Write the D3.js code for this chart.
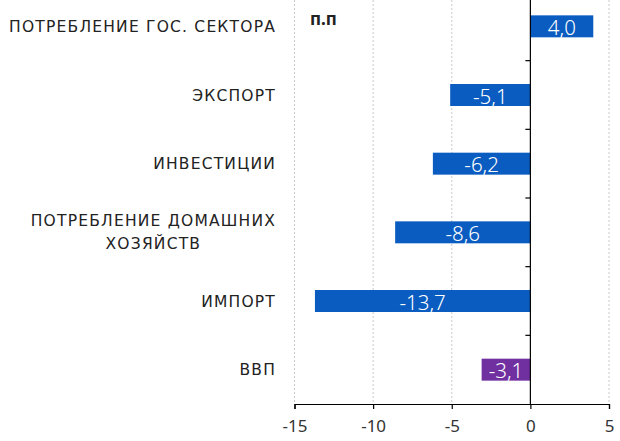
<!DOCTYPE html>
<html>
<head>
<meta charset="utf-8">
<script src="https://cdn.jsdelivr.net/npm/d3@7"></script>
<style>
  body { margin: 0; background: #fff; }
</style>
</head>
<body>
<svg class="chart"></svg>
<script>
let width = 620,
  height = 441;

// data
let categories = [
  ["ПОТРЕБЛЕНИЕ ГОС. СЕКТОРА"],
  ["ЭКСПОРТ"],
  ["ИНВЕСТИЦИИ"],
  ["ПОТРЕБЛЕНИЕ ДОМАШНИХ", "ХОЗЯЙСТВ"],
  ["ИМПОРТ"],
  ["ВВП"],
];
let values = [4.0, -5.1, -6.2, -8.6, -13.7, -3.1];
let valueLabels = ["4,0", "-5,1", "-6,2", "-8,6", "-13,7", "-3,1"];
let xTicks = [-15, -10, -5, 0, 5];
let unitLabel = "п.п";

let svg = d3.select(".chart").attr("width", width).attr("height", height);

let x = d3.scaleLinear().domain([-15, 5]).range([294.5, 609]);
let y = d3
  .scaleBand()
  .domain(d3.range(categories.length))
  .range([-8, 404])
  .paddingInner(0.68)
  .paddingOuter(0.34);
let step = y.step();

// dotted grid
svg
  .append("g")
  .selectAll("line")
  .data(xTicks.filter((d) => d != 0))
  .enter()
  .append("line")
  .attr("x1", (d) => x(d))
  .attr("x2", (d) => x(d))
  .attr("y1", 0)
  .attr("y2", 404)
  .attr("stroke", "#c8c8c8")
  .attr("stroke-width", 1)
  .attr("stroke-dasharray", "2,2");

// bars
svg
  .append("g")
  .selectAll("rect")
  .data(values)
  .enter()
  .append("rect")
  .attr("x", (d) => x(Math.min(0, d)))
  .attr("y", (d, i) => y(i))
  .attr("width", (d) => Math.abs(x(d) - x(0)))
  .attr("height", y.bandwidth())
  .attr("fill", (d, i) => (i == categories.length - 1 ? "#7030a0" : "#0a5cc0"));

// value labels
svg
  .append("g")
  .selectAll("text")
  .data(values)
  .enter()
  .append("text")
  .attr("x", (d) => (x(d) + x(0)) / 2)
  .attr("y", (d, i) => y(i) + y.bandwidth() / 2)
  .attr("dy", "0.42em")
  .attr("text-anchor", "middle")
  .attr("fill", "#fff")
  .style("font-family", "Noto Sans, sans-serif")
  .style("font-size", "20.5px")
  .style("font-weight", 300)
  .text((d, i) => valueLabels[i]);

// bottom axis
let xAxis = d3
  .axisBottom(x)
  .tickValues(xTicks)
  .tickSize(5)
  .tickFormat((d) => d);
let gx = svg.append("g").attr("transform", "translate(0,404)").call(xAxis);
gx.select(".domain").attr("stroke", "#000").attr("stroke-width", 1.2);
gx.selectAll(".tick line").attr("stroke", "#000").attr("stroke-width", 1.2);
gx.selectAll(".tick text")
  .style("font-family", "Noto Sans, sans-serif")
  .style("font-size", "17px")
  .attr("fill", "#333")
  .attr("dy", "1.15em");

// zero line with category ticks
svg
  .append("line")
  .attr("x1", x(0))
  .attr("x2", x(0))
  .attr("y1", 0)
  .attr("y2", 404)
  .attr("stroke", "#000")
  .attr("stroke-width", 1.2);
svg
  .append("g")
  .selectAll("line")
  .data(d3.range(1, categories.length))
  .enter()
  .append("line")
  .attr("x1", x(0) - 5)
  .attr("x2", x(0))
  .attr("y1", (d) => -8 + d * step)
  .attr("y2", (d) => -8 + d * step)
  .attr("stroke", "#000")
  .attr("stroke-width", 1.2);

// category labels (multi-line ones are centred within their block)
let labelRight = 276;
let labels = svg
  .append("g")
  .selectAll("text")
  .data(categories)
  .enter()
  .append("text")
  .attr("y", (d, i) => y(i) + y.bandwidth() / 2)
  .attr("text-anchor", "middle")
  .style("font-family", "DejaVu Sans, sans-serif")
  .style("font-size", "15.5px")
  .style("letter-spacing", "1.2px")
  .attr("fill", "#222");
labels
  .selectAll("tspan")
  .data((d) => d.map((t, j) => ({ t: t, j: j, n: d.length })))
  .enter()
  .append("tspan")
  .attr("dy", (d) => (d.j == 0 ? 0.36 - (d.n - 1) * 0.74 + "em" : "1.48em"))
  .text((d) => d.t);
labels.each(function () {
  let spans = d3.select(this).selectAll("tspan");
  let w = d3.max(spans.nodes(), (n) => n.getComputedTextLength());
  spans.attr("x", labelRight - w / 2);
});

// unit label
svg
  .append("text")
  .attr("x", 310)
  .attr("y", 25)
  .style("font-family", "Noto Sans, sans-serif")
  .style("font-size", "17px")
  .style("font-weight", "bold")
  .attr("fill", "#222")
  .text(unitLabel);
</script>
</body>
</html>
